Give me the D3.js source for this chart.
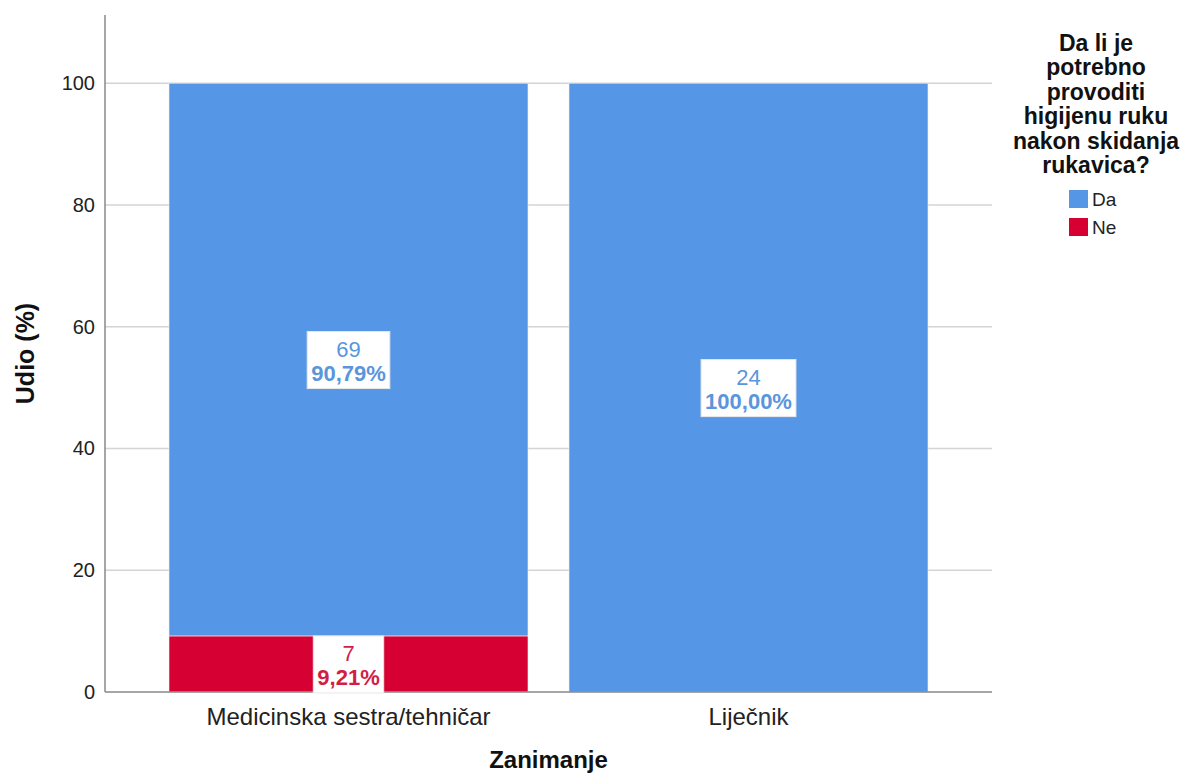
<!DOCTYPE html>
<html>
<head>
<meta charset="utf-8">
<script src="https://cdn.jsdelivr.net/npm/d3@7"></script>
<style>
  body { margin: 0; background: #fff; }
  text { font-family: "Liberation Sans", Arial, sans-serif; }
</style>
</head>
<body>
<script>
var width = 1192;
var height = 775;

// data
var categories = ["Medicinska sestra/tehničar", "Liječnik"];
var answers = ["Da", "Ne"];
var counts = {
  "Da": [69, 24],
  "Ne": [7, 0]
};
var percents = {
  "Da": [90.79, 100.00],
  "Ne": [9.21, 0]
};
var yTicks = [0, 20, 40, 60, 80, 100];
var colors = {"Da": "#5596e6", "Ne": "#d60032"};
var textColors = {"Da": "#5b95dc", "Ne": "#d21e45"};
var legendTitle = ["Da li je", "potrebno", "provoditi", "higijenu ruku", "nakon skidanja", "rukavica?"];

var plotLeft = 105, plotRight = 992, plotTop = 15, plotBottom = 692;

var svg = d3.select("body").append("svg")
  .attr("width", width)
  .attr("height", height);

var y = d3.scaleLinear()
  .domain([0, 111.2])
  .range([plotBottom, plotTop]);

var x = d3.scaleBand()
  .domain(categories)
  .range([148.5, 948.5])
  .paddingInner(0.1025)
  .paddingOuter(0.05125);

// gridlines
svg.append("g")
  .selectAll("line")
  .data(yTicks.filter(d => d > 0))
  .enter().append("line")
  .attr("x1", plotLeft)
  .attr("x2", plotRight)
  .attr("y1", d => y(d))
  .attr("y2", d => y(d))
  .attr("stroke", "#d4d4d4")
  .attr("stroke-width", 1.5);

// stacked segments
var segs = [];
categories.forEach(function (c, i) {
  var base = 0;
  ["Ne", "Da"].forEach(function (a) {
    var p = percents[a][i];
    if (p > 0) {
      segs.push({cat: c, ans: a, y0: base, y1: base + p, n: counts[a][i], p: p});
    }
    base += p;
  });
});

svg.append("g")
  .selectAll("rect")
  .data(segs)
  .enter().append("rect")
  .attr("x", d => x(d.cat))
  .attr("width", x.bandwidth())
  .attr("y", d => y(d.y1))
  .attr("height", d => y(d.y0) - y(d.y1))
  .attr("fill", d => colors[d.ans])
  .attr("stroke", "#f0f0f0")
  .attr("stroke-width", 0.6);

// axes
var axisY = d3.axisLeft(y).tickValues(yTicks).tickSize(0).tickPadding(10);
var gy = svg.append("g")
  .attr("transform", "translate(" + plotLeft + ",0)")
  .call(axisY);
gy.select(".domain").remove();
gy.selectAll("text")
  .style("font-size", "20px")
  .style("font-family", "'Liberation Sans', Arial, sans-serif")
  .attr("fill", "#222");

svg.append("line")
  .attr("x1", plotLeft).attr("x2", plotLeft)
  .attr("y1", plotTop).attr("y2", plotBottom)
  .attr("stroke", "#888").attr("stroke-width", 1.5);
svg.append("line")
  .attr("x1", plotLeft).attr("x2", plotRight)
  .attr("y1", plotBottom).attr("y2", plotBottom)
  .attr("stroke", "#888").attr("stroke-width", 1.5);

var axisX = d3.axisBottom(x).tickSize(0).tickPadding(16);
var gx = svg.append("g")
  .attr("transform", "translate(0," + plotBottom + ")")
  .call(axisX);
gx.select(".domain").remove();
gx.selectAll("text")
  .style("font-size", "24px")
  .style("font-family", "'Liberation Sans', Arial, sans-serif")
  .attr("fill", "#222");

// data labels
var lab = svg.append("g")
  .selectAll("g")
  .data(segs)
  .enter().append("g")
  .attr("transform", d => "translate(" + (x(d.cat) + x.bandwidth() / 2) + "," + y((d.y0 + d.y1) / 2) + ")");

lab.each(function (d) {
  var g = d3.select(this);
  var box = g.append("rect").attr("fill", "#fff");
  var t1 = g.append("text")
    .attr("text-anchor", "middle")
    .attr("y", -3)
    .style("font-size", "22px")
    .attr("fill", textColors[d.ans])
    .text(d.n);
  var t2 = g.append("text")
    .attr("text-anchor", "middle")
    .attr("y", 21)
    .style("font-size", "22px")
    .style("font-weight", "bold")
    .attr("fill", textColors[d.ans])
    .text(d3.format(".2f")(d.p).replace(".", ",") + "%");
  var w = Math.max(t1.node().getBBox().width, t2.node().getBBox().width) + 8;
  box.attr("x", -w / 2).attr("y", -28).attr("width", w).attr("height", 57)
    .attr("stroke", "#e8e8e8").attr("stroke-width", 1);
});

// axis titles
svg.append("text")
  .attr("transform", "translate(34," + ((plotTop + plotBottom) / 2) + ") rotate(-90)")
  .attr("text-anchor", "middle")
  .style("font-size", "25px")
  .style("font-weight", "bold")
  .attr("fill", "#111")
  .text("Udio (%)");

svg.append("text")
  .attr("x", (plotLeft + plotRight) / 2)
  .attr("y", 768)
  .attr("text-anchor", "middle")
  .style("font-size", "24px")
  .style("font-weight", "bold")
  .attr("fill", "#111")
  .text("Zanimanje");

// legend
var lg = svg.append("g").attr("transform", "translate(1096,0)");
lg.selectAll("text.title")
  .data(legendTitle)
  .enter().append("text")
  .attr("class", "title")
  .attr("text-anchor", "middle")
  .attr("y", (d, i) => 51 + i * 24.4)
  .style("font-size", "23px")
  .style("font-weight", "bold")
  .attr("fill", "#111")
  .text(d => d);

var items = lg.selectAll("g.item")
  .data(answers)
  .enter().append("g")
  .attr("class", "item")
  .attr("transform", (d, i) => "translate(-27," + (190 + i * 28) + ")");
items.append("rect")
  .attr("width", 19).attr("height", 18)
  .attr("fill", d => colors[d]);
items.append("text")
  .attr("x", 23).attr("y", 16)
  .style("font-size", "19px")
  .attr("fill", "#222")
  .text(d => d);
</script>
</body>
</html>
